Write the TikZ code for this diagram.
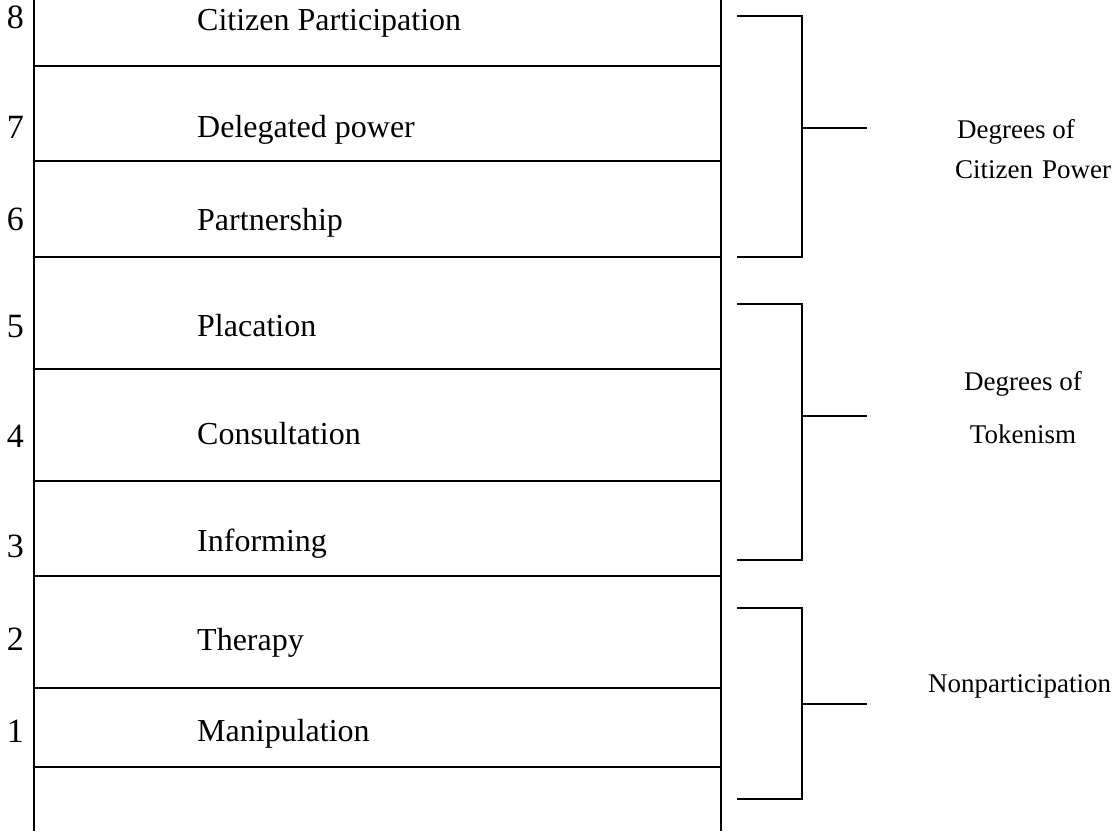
\documentclass[tikz,border=0pt]{standalone}
\usepackage{fontspec}
\setmainfont{Liberation Serif}
\begin{document}
\begin{tikzpicture}[x=1pt,y=-1pt,
  rule/.style={line width=1.5pt,black},
  lbl/.style={anchor=base west,inner sep=0pt,font=\fontsize{32}{38}\selectfont},
  num/.style={anchor=base east,inner sep=0pt,font=\fontsize{34}{40}\selectfont},
  grp/.style={inner sep=0pt,font=\fontsize{27}{32}\selectfont}]
\useasboundingbox (0,0) rectangle (1112,831);
% ladder frame
\coordinate (lt) at (34,0); \coordinate (lb) at (34,831);
\coordinate (rt) at (721,0); \coordinate (rb) at (721,831);
\draw[rule] (lt) -- (lb);
\draw[rule] (rt) -- (rb);
\foreach \y in {66,161,257,369,481,576,688,767}{
  \draw[rule] (34,\y) -- (721,\y);
}
% rung numbers
\node[num] (n8) at (24,28) {8};
\node[num] (n7) at (24,138) {7};
\node[num] (n6) at (24,230) {6};
\node[num] (n5) at (24,337) {5};
\node[num] (n4) at (24,447) {4};
\node[num] (n3) at (24,557) {3};
\node[num] (n2) at (24,650) {2};
\node[num] (n1) at (24,742) {1};
% rung labels
\node[lbl] (l8) at (197,30) {Citizen Participation};
\node[lbl] (l7) at (197,137) {Delegated power};
\node[lbl] (l6) at (197,230) {Partnership};
\node[lbl] (l5) at (197,336) {Placation};
\node[lbl] (l4) at (197,444) {Consultation};
\node[lbl] (l3) at (197,551) {Informing};
\node[lbl] (l2) at (197,650) {Therapy};
\node[lbl] (l1) at (197,741) {Manipulation};
% brackets
\draw[rule] (737,16) -- (802,16) -- (802,257) -- (737,257);
\draw[rule] (802,128) -- (867,128);
\draw[rule] (737,304) -- (802,304) -- (802,560) -- (737,560);
\draw[rule] (802,416) -- (867,416);
\draw[rule] (737,608) -- (802,608) -- (802,799) -- (737,799);
\draw[rule] (802,704) -- (867,704);
% group labels
\node[grp,anchor=base west] (g3a) at (957,138) {Degrees of};
\node[grp,anchor=base west] (g3b) at (955,178) {Citizen\hspace{0.33em}Power};
\node[grp,anchor=base] (g2a) at (1023,390) {Degrees of};
\node[grp,anchor=base] (g2b) at (1023,443) {Tokenism};
\node[grp,anchor=base west] (g1) at (928,692) {Nonparticipation};
\end{tikzpicture}
\end{document}
